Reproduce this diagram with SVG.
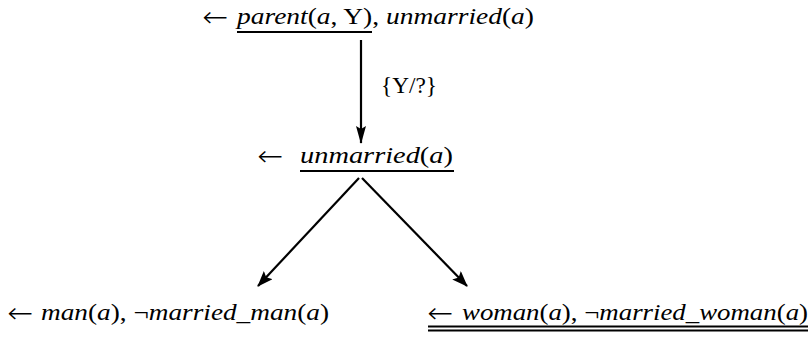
<svg xmlns="http://www.w3.org/2000/svg" width="811" height="337" viewBox="0 0 811 337">
<style>
text{font-family:"Liberation Serif","DejaVu Serif",serif;font-size:24px;fill:#000}
.i{font-style:italic}
.ar{font-family:"DejaVu Sans",sans-serif;font-size:29px;font-weight:200}
.u{stroke:#000;stroke-width:2;fill:none}
.e{stroke:#000;stroke-width:2.2;fill:none}
</style>
<defs>
<marker id="ah" markerUnits="userSpaceOnUse" markerWidth="16" markerHeight="12" refX="15" refY="6" orient="auto">
<path d="M0,0 L16,6 L0,12 L3,6 z" fill="#000"/>
</marker>
<marker id="ahv" markerUnits="userSpaceOnUse" markerWidth="18" markerHeight="10" refX="17" refY="5" orient="auto">
<path d="M0,0 L18,5 L0,10 L3,5 z" fill="#000"/>
</marker>
</defs>
<rect width="811" height="337" fill="#fff"/>
<g id="connectors">
<line class="e" x1="361" y1="40" x2="361" y2="143" stroke-width="3" marker-end="url(#ahv)"/>
<text x="381" y="93" textLength="56" lengthAdjust="spacingAndGlyphs">{Y/?}</text>
<polyline class="e" points="359,178 258,286" marker-end="url(#ah)"/>
<polyline class="e" points="362,178 467,286" marker-end="url(#ah)"/>
</g>
<g id="n1">
<text class="ar" x="202" y="27" textLength="26" lengthAdjust="spacingAndGlyphs">←</text>
<text x="237" y="24" textLength="297" lengthAdjust="spacingAndGlyphs"><tspan class="i">parent</tspan>(<tspan class="i">a</tspan>, Y), <tspan class="i">unmarried</tspan>(<tspan class="i">a</tspan>)</text>
<line class="u" x1="237" y1="32" x2="372" y2="32"/>
</g>
<g id="n2">
<text class="ar" x="257" y="166" textLength="26" lengthAdjust="spacingAndGlyphs">←</text>
<text x="300" y="163" textLength="153" lengthAdjust="spacingAndGlyphs"><tspan class="i">unmarried</tspan>(<tspan class="i">a</tspan>)</text>
<line class="u" x1="300" y1="171" x2="454" y2="171"/>
</g>
<g id="n3">
<text class="ar" x="7" y="323" textLength="26" lengthAdjust="spacingAndGlyphs">←</text>
<text x="41" y="320" textLength="288" lengthAdjust="spacingAndGlyphs"><tspan class="i">man</tspan>(<tspan class="i">a</tspan>), ¬<tspan class="i">married_man</tspan>(<tspan class="i">a</tspan>)</text>
</g>
<g id="n4">
<text class="ar" x="427" y="323" textLength="26" lengthAdjust="spacingAndGlyphs">←</text>
<text x="462" y="320" textLength="346" lengthAdjust="spacingAndGlyphs"><tspan class="i">woman</tspan>(<tspan class="i">a</tspan>), ¬<tspan class="i">married_woman</tspan>(<tspan class="i">a</tspan>)</text>
<line class="u" x1="428" y1="326.5" x2="808" y2="326.5" stroke-width="1.6"/>
<line class="u" x1="428" y1="330.5" x2="808" y2="330.5" stroke-width="1.6"/>
</g>
</svg>
